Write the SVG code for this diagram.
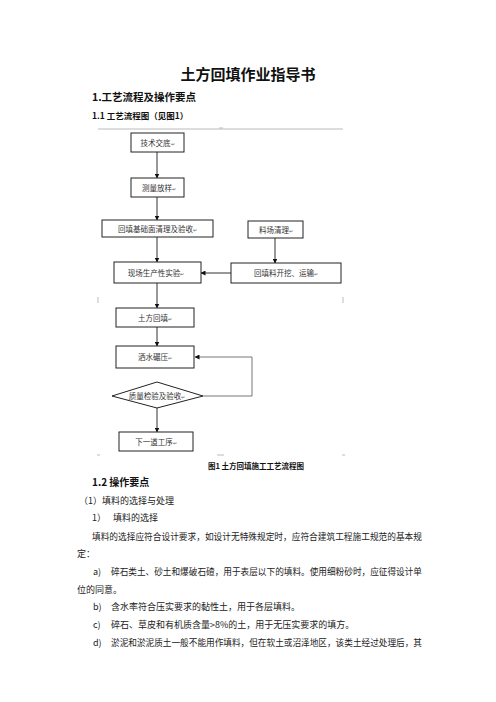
<svg xmlns="http://www.w3.org/2000/svg" width="496" height="702" viewBox="0 0 496 702">
<defs>
<marker id="ah" markerWidth="5" markerHeight="5" refX="4.5" refY="2.5" orient="auto" markerUnits="userSpaceOnUse">
<path d="M0,0 L5,2.5 L0,5 Z" fill="#111"/>
</marker>
<style>
.doc{font-family:"Noto Sans CJK SC","Liberation Sans",sans-serif;fill:#222}
.b{font-weight:bold;fill:#111}
.body{font-size:9px}
.nt{font-family:"Noto Sans CJK SC","Liberation Sans",sans-serif;font-size:7.5px;fill:#333;text-anchor:middle}
.pm{font-size:5px;fill:#666}
.box{fill:#fff;stroke:#222;stroke-width:1}
.ln{stroke:#333;stroke-width:1;fill:none}
.fb{stroke:#777;stroke-width:1;fill:none}
.fr{stroke:#bbb;stroke-width:1;fill:none}
</style>
</defs>
<rect width="496" height="702" fill="#fff"/>
<text class="doc b" x="248" y="80" font-size="15" text-anchor="middle">土方回填作业指导书</text>
<text class="doc b" x="92" y="101" font-size="10.5">1.工艺流程及操作要点</text>
<text class="doc b" x="92" y="119" font-size="8.5">1.1 工艺流程图（见图1）</text>
<g id="frame">
<line class="fr" x1="98" y1="129" x2="343" y2="129"/>
<line class="fr" x1="219" y1="128" x2="223" y2="128"/>
<line class="fr" x1="98" y1="297" x2="98" y2="303"/>
<line class="fr" x1="343" y1="297" x2="343" y2="303"/>
<line class="fr" x1="97" y1="455" x2="100" y2="455"/>
<line class="fr" x1="217" y1="455" x2="224" y2="455"/>
<line class="fr" x1="342" y1="455" x2="345" y2="455"/>
</g>
<g id="connectors">
<line class="ln" x1="157" y1="152" x2="157" y2="178" marker-end="url(#ah)"/>
<line class="ln" x1="157" y1="197" x2="157" y2="220" marker-end="url(#ah)"/>
<line class="ln" x1="157" y1="237" x2="157" y2="262" marker-end="url(#ah)"/>
<line class="ln" x1="275" y1="238" x2="275" y2="263" marker-end="url(#ah)"/>
<line class="ln" x1="231" y1="273" x2="201" y2="273" marker-end="url(#ah)"/>
<line class="ln" x1="157" y1="283" x2="157" y2="308" marker-end="url(#ah)"/>
<line class="ln" x1="157" y1="327" x2="157" y2="346" marker-end="url(#ah)"/>
<polyline class="fb" points="203,396 252,396 252,357 195,357" marker-end="url(#ah)"/>
<line class="ln" x1="157" y1="408" x2="157" y2="432" marker-end="url(#ah)"/>
</g>
<g id="n1"><rect class="box" x="131" y="133" width="53" height="19"/><text class="nt" x="157.5" y="145.5">技术交底<tspan class="pm">↵</tspan></text></g>
<g id="n2"><rect class="box" x="131" y="178" width="53" height="19"/><text class="nt" x="159" y="190.5">测量放样<tspan class="pm">↵</tspan></text></g>
<g id="n3"><rect class="box" x="102" y="220" width="111" height="17"/><text class="nt" x="157.5" y="231.5">回填基础面清理及验收<tspan class="pm">↵</tspan></text></g>
<g id="n4"><rect class="box" x="248" y="221" width="55" height="17"/><text class="nt" x="276" y="232.5">料场清理<tspan class="pm">↵</tspan></text></g>
<g id="n5"><rect class="box" x="114" y="262" width="87" height="21"/><text class="nt" x="156" y="275.5">现场生产性实验<tspan class="pm">↵</tspan></text></g>
<g id="n6"><rect class="box" x="231" y="263" width="110" height="20"/><text class="nt" x="286" y="276">回填料开挖、运输<tspan class="pm">↵</tspan></text></g>
<g id="n7"><rect class="box" x="116" y="308" width="78" height="19"/><text class="nt" x="155" y="320.5">土方回填<tspan class="pm">↵</tspan></text></g>
<g id="n8"><rect class="box" x="116" y="346" width="78" height="22"/><text class="nt" x="155" y="360">洒水碾压<tspan class="pm">↵</tspan></text></g>
<g id="n9"><polygon class="box" points="157,382 203,396 157,408 112,396"/><text class="nt" x="157" y="398.5">质量检验及验收<tspan class="pm">↵</tspan></text></g>
<g id="n10"><rect class="box" x="119" y="432" width="74" height="19"/><text class="nt" x="156" y="444.5">下一道工序<tspan class="pm">↵</tspan></text></g>
<text class="doc b" x="256" y="469" font-size="7.5" text-anchor="middle">图1 土方回填施工工艺流程图</text>
<text class="doc b" x="92" y="486" font-size="10">1.2 操作要点</text>
<g class="doc body">
<text x="79" y="504">（1）填料的选择与处理</text>
<text x="92" y="521">1）</text>
<text x="113" y="521">填料的选择</text>
<text x="92" y="540" textLength="330" lengthAdjust="spacingAndGlyphs">填料的选择应符合设计要求，如设计无特殊规定时，应符合建筑工程施工规范的基本规</text>
<text x="77" y="557">定：</text>
<text x="93" y="575">a)</text>
<text x="111" y="575" textLength="311" lengthAdjust="spacingAndGlyphs">碎石类土、砂土和爆破石碴，用于表层以下的填料。使用细粉砂时，应征得设计单</text>
<text x="77" y="593">位的同意。</text>
<text x="93" y="610">b)</text>
<text x="111" y="610">含水率符合压实要求的黏性土，用于各层填料。</text>
<text x="93" y="628">c)</text>
<text x="111" y="628">碎石、草皮和有机质含量&gt;8%的土，用于无压实要求的填方。</text>
<text x="93" y="646">d)</text>
<text x="111" y="646" textLength="311" lengthAdjust="spacingAndGlyphs">淤泥和淤泥质土一般不能用作填料，但在软土或沼泽地区，该类土经过处理后，其</text>
</g>
</svg>
